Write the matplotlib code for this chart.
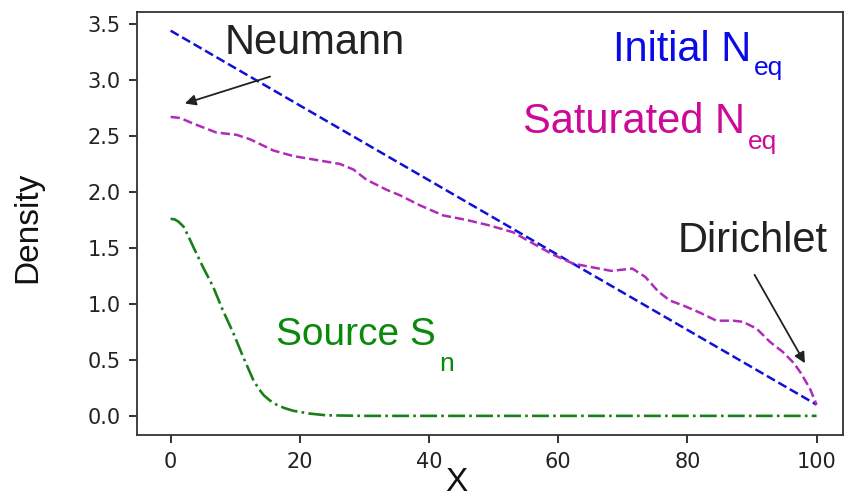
import matplotlib
matplotlib.use("Agg")
import matplotlib.pyplot as plt

# Initial equilibrium density (linear profile)
x_init = [0, 100]
n_init = [3.44, 0.10]

# Saturated equilibrium density
x_sat = [0, 1.5, 3.5, 7.1, 10.2, 12.3, 15.9, 19.0, 23.1, 26.2, 28.3, 30.3, 33.4,
         35.5, 38.6, 42.2, 45.8, 49.4, 53.0, 56.1, 59.2, 62.3, 65.9, 68.2, 71.5,
         73.5, 75.5, 77.3, 79.6, 82.0, 84.5, 87.1, 88.6, 90.7, 92.8, 94.8, 96.5,
         97.6, 99.0, 100.0]
n_sat = [2.67, 2.66, 2.61, 2.53, 2.51, 2.47, 2.37, 2.32, 2.28, 2.25, 2.20, 2.11, 2.02,
         1.97, 1.88, 1.79, 1.75, 1.70, 1.64, 1.54, 1.44, 1.36, 1.32, 1.295, 1.315,
         1.24, 1.11, 1.03, 0.98, 0.92, 0.85, 0.85, 0.84, 0.78, 0.66, 0.57, 0.47,
         0.38, 0.24, 0.10]

# Particle source
x_src = [0, 0.6, 1.2, 2.0, 2.7, 3.5, 5.0, 6.6, 8.1, 9.7, 11.2, 12.8, 13.6, 14.4,
         15.3, 16.4, 17.6, 19.0, 21.6, 24.1, 30.0, 100.0]
s_src = [1.76, 1.755, 1.735, 1.69, 1.61, 1.51, 1.33, 1.15, 0.94, 0.74, 0.53, 0.32,
         0.245, 0.185, 0.14, 0.10, 0.07, 0.045, 0.02, 0.005, 0.0, 0.0]

x_ticks = [0, 20, 40, 60, 80, 100]
y_ticks = [0.0, 0.5, 1.0, 1.5, 2.0, 2.5, 3.0, 3.5]

fig = plt.figure(figsize=(8.46, 4.99), dpi=100)
ax = fig.add_axes([0.162, 0.128, 0.9965 - 0.162, 0.976 - 0.128])

ax.plot(x_init, n_init, color="#1010d8", ls="--", lw=1.8)
ax.plot(x_sat, n_sat, color="#b02cb8", ls="--", lw=1.8)
ax.plot(x_src, s_src, color="#1a7f1a", ls="-.", lw=1.9)

ax.set_xlim(-5.2, 104.1)
ax.set_ylim(-0.172, 3.607)
ax.set_xticks(x_ticks)
ax.set_yticks(y_ticks)
ax.set_xticklabels([str(v) for v in x_ticks])
ax.set_yticklabels([f"{v:.1f}" for v in y_ticks])
ax.tick_params(labelsize=15, length=6, width=1.3, colors="#222222", pad=6)
for s in ax.spines.values():
    s.set_linewidth(1.3)
    s.set_color("#333333")

ax.set_ylabel("Density", family="Liberation Sans", color="#111111", fontsize=24)
ax.yaxis.set_label_coords(-0.133, 0.49)
ax.set_xlabel("X", family="Liberation Sans", color="#111111", fontsize=24,
              va="bottom")
ax.xaxis.set_label_coords(0.453, -0.148)

SANS = "Liberation Sans"


def label(x, y, main, sub, color, size, sub_size, drop, gap=3):
    """Text with a lowered subscript placed right after it (pixel offsets)."""
    t = ax.text(x, y, main, color=color, family=SANS, fontsize=size, va="baseline")
    if sub is None:
        return
    fig.canvas.draw()
    bb = t.get_window_extent()
    _, by = ax.transData.transform((x, y))
    sx, sy = ax.transData.inverted().transform((bb.x1 + gap, by - drop))
    ax.text(sx, sy, sub, color=color, family=SANS, fontsize=sub_size, va="baseline")


label(8.4, 3.23, "Neumann", None, "#222222", 30, 0, 0)
label(78.5, 1.46, "Dirichlet", None, "#222222", 30, 0, 0)
label(68.5, 3.17, "Initial N", "eq", "#0a0ae6", 30, 19, 14)
label(54.5, 2.53, "Saturated N", "eq", "#cc0a99", 30, 19, 16)
label(16.3, 0.63, "Source S", "n", "#0a8a0a", 28, 19, 26, gap=4)

arrow = dict(arrowstyle="-|>", color="#222222", lw=1.3, mutation_scale=16,
             shrinkA=0, shrinkB=0)
ax.annotate("", xy=(2.2, 2.79), xytext=(15.4, 3.03), arrowprops=arrow)
ax.annotate("", xy=(98.2, 0.47), xytext=(90.4, 1.26), arrowprops=arrow)

fig.savefig("out.png", dpi=100)
